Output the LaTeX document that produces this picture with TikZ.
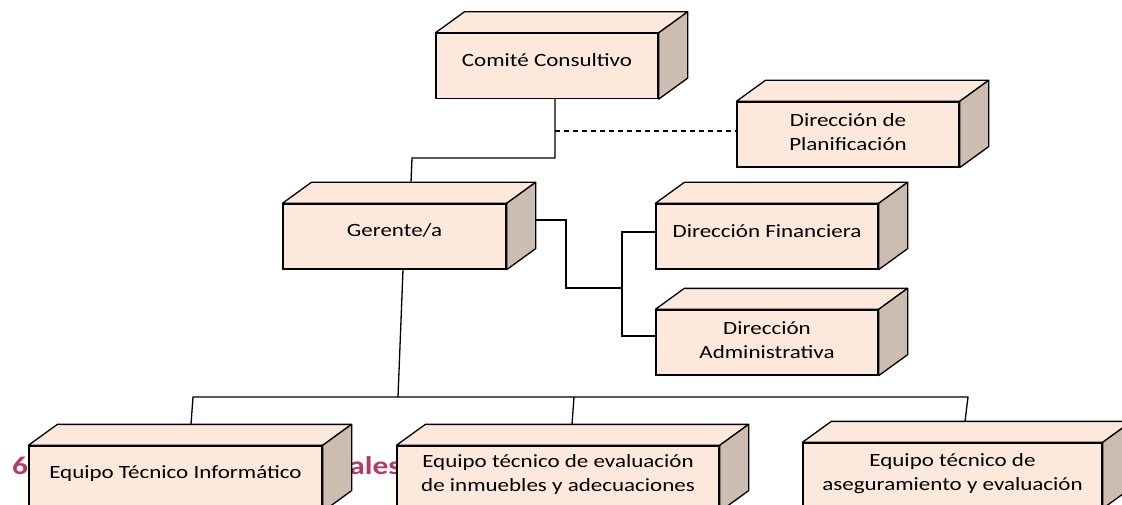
\documentclass[tikz,border=0pt]{standalone}
\usepackage{fontspec}
\setmainfont{Carlito}[FakeStretch=1.23]
\definecolor{frontc}{HTML}{FCE9DB}
\definecolor{sidec}{HTML}{CDBCB0}
\definecolor{headc}{HTML}{B8386A}
\tikzset{
  face/.style={draw, fill=frontc, line width=1.3pt, minimum height=65pt, inner sep=0pt},
  topface/.style={draw, fill=frontc, line width=1.3pt, line join=round},
  sideface/.style={draw, fill=sidec, line width=1.3pt, line join=round},
  txt/.style={font=\fontsize{18.7}{24}\selectfont, align=center, inner sep=0pt},
  conn/.style={line width=1.3pt},
  head/.style={font=\fontsize{25.5}{28}\selectfont\bfseries, text=headc, inner sep=0pt}
}
% name, x, y, width, text, text shift
\newcommand\cubebox[6]{%
  \node[face, minimum width=#4pt] (#1) at (#2,#3) {};
  \draw[topface] (#1.north west) -- ++(29pt,21pt) -- ([shift={(29pt,21pt)}]#1.north east) -- (#1.north east) -- cycle;
  \draw[sideface] (#1.north east) -- ++(29pt,21pt) -- ([shift={(29pt,21pt)}]#1.south east) -- (#1.south east) -- cycle;
  \node[txt] (#1-t) at ([yshift=#6pt]#1.center) {#5};
}
\begin{document}
\begin{tikzpicture}[x=1pt,y=-1pt]
\useasboundingbox (0,0) rectangle (1122,505);
\clip (0,0) rectangle (1122,505);

% partially hidden heading
\node[head, anchor=base west] (h6) at (12,474) {6};
\node[head, anchor=base east] (hales) at (401,474) {ales};

% nodes
\cubebox{cc}{547}{66}{222}{Comité Consultivo}{6}
\cubebox{dp}{848}{134.5}{222}{Dirección de\\Planificación}{2.5}
\cubebox{ge}{394.5}{236.5}{223}{Gerente/a}{6}
\cubebox{df}{767}{236.5}{222}{Dirección Financiera}{5}
\cubebox{da}{767}{342.5}{222}{Dirección\\Administrativa}{2.5}
\cubebox{ei}{175.5}{478.5}{293}{Equipo Técnico Informático}{4.5}
\cubebox{ee}{558}{478.5}{322}{Equipo técnico de evaluación\\de inmuebles y adecuaciones}{4}
\cubebox{ea}{952.5}{475.5}{299}{Equipo técnico de\\aseguramiento y evaluación}{1.5}

% connectors
\coordinate (k1) at (555,158);
\coordinate (k2) at (412,158);
\draw[conn] ([xshift=8pt]cc.south) -- (k1) -- (k2) -- ([xshift=16.5pt,yshift=21pt]ge.north);
\coordinate (kd) at (555,131);
\draw[conn, dash pattern=on 5pt off 4pt] (kd) -- (kd -| dp.west);

\coordinate (g1) at (566,220);
\coordinate (g2) at (566,288);
\coordinate (g3) at (622,288);
\draw[conn] ([xshift=29pt,yshift=16.5pt]ge.east) -- (g1) -- (g2) -- (g3);
\draw[conn] ([yshift=4.5pt]df.west) -| (g3) |- ([yshift=6.5pt]da.west);

\coordinate (b0) at (398,397);
\coordinate (bl) at (193,397);
\coordinate (br) at (968,397);
\coordinate (bm) at (574,397);
\draw[conn] ([xshift=8.5pt]ge.south) -- (b0);
\draw[conn] ([xshift=15.5pt,yshift=21pt]ei.north) -- (bl) -- (br) -- ([xshift=12.5pt,yshift=21pt]ea.north);
\draw[conn] (bm) -- ([xshift=14pt,yshift=21pt]ee.north);
\end{tikzpicture}
\end{document}
